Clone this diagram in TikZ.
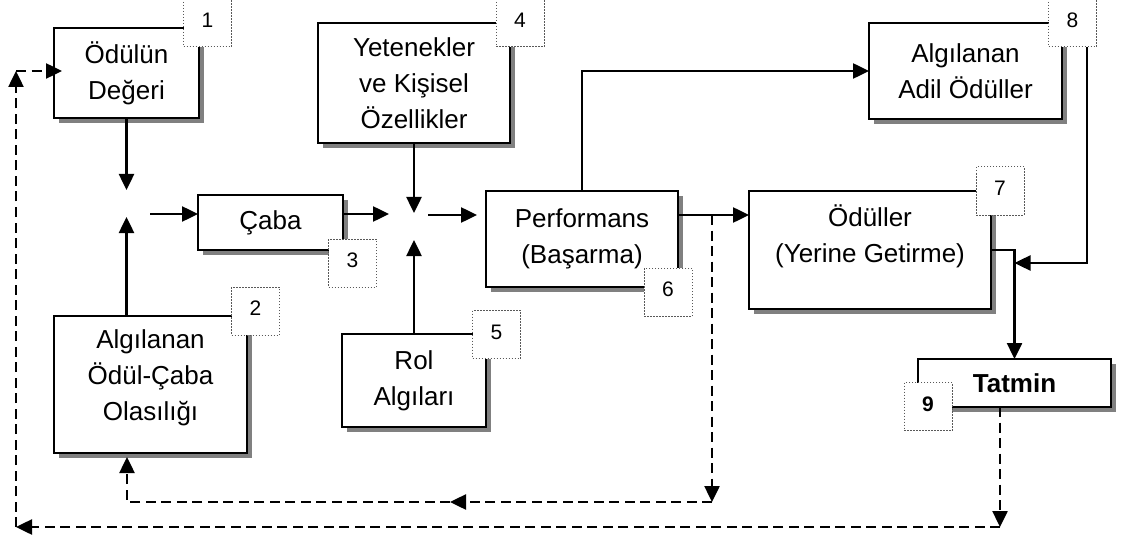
\documentclass[tikz,border=0pt]{standalone}
\usepackage{fontspec}
\setmainfont{Liberation Sans}
\usetikzlibrary{arrows.meta,shadows}
\tikzset{
  box/.style={draw=black, line width=2.5pt, fill=white, inner sep=0pt, outer sep=0pt,
    align=center, font=\fontsize{26}{36}\selectfont,
    drop shadow={opacity=1, fill=black!50, shadow xshift=5pt, shadow yshift=-5pt}},
  plaintext/.style={inner sep=0pt, align=center, font=\fontsize{26}{36}\selectfont},
  numbox/.style={draw=black!65, dash pattern=on 1.5pt off 1.5pt, line width=1pt, fill=white,
    minimum width=48pt, minimum height=48pt, inner sep=0pt, text depth=5pt,
    font=\fontsize{21}{23}\selectfont},
  tip/.style={-{Triangle[length=16pt,width=15pt]}},
  arr/.style={line width=2.5pt, tip},
  dline/.style={line width=2.5pt, dash pattern=on 10pt off 5.5pt},
}
\begin{document}
\begin{tikzpicture}[x=1pt,y=-1pt]
\useasboundingbox (0,0) rectangle (1121,540);

% boxes
\node[box, minimum width=145pt, minimum height=90pt]  (b1) at (126.5,73)  {Ödülün\\Değeri};
\node[box, minimum width=193pt, minimum height=137pt] (b2) at (150.5,384.5) {};
\node[plaintext] (t2) at (150.5,378) {Algılanan\\Ödül-Çaba\\Olasılığı};
\node[box, minimum width=145pt, minimum height=55pt]  (b3) at (270.5,222.5) {Çaba};
\node[box, minimum width=192pt, minimum height=120pt] (b4) at (414,83)    {Yetenekler\\ve Kişisel\\Özellikler};
\node[box, minimum width=144pt, minimum height=93pt]  (b5) at (414,380.5) {Rol\\Algıları};
\node[box, minimum width=192pt, minimum height=96pt]  (b6) at (582,239)   {Performans\\(Başarma)};
\node[box, minimum width=242pt, minimum height=118pt] (b7) at (870,250)   {};
\node[plaintext] (t7) at (870,236) {Ödüller\\(Yerine Getirme)};
\node[box, minimum width=193pt, minimum height=96pt]  (b8) at (965.5,71)  {Algılanan\\Adil Ödüller};
\node[box, minimum width=193pt, minimum height=48pt, font=\fontsize{26}{36}\selectfont\bfseries] (b9) at (1014.5,383) {Tatmin};

% junction points
\coordinate (j1u) at (126.5,190);
\coordinate (j1d) at (126.5,217);
\coordinate (j1r) at (150,214);
\coordinate (j2l) at (389,214);
\coordinate (j2u) at (414,213);
\coordinate (j2d) at (414,240);
\coordinate (j2r) at (428,215);
\coordinate (p)   at (712,215);

% solid arrows
\draw[arr] (b1.south) -- (j1u);
\draw[arr] (j1d |- b2.north) -- (j1d);
\draw[arr] (j1r) -- (b3.west |- j1r);
\draw[arr] (b3.east |- j1r) -- (j2l);
\draw[arr] (b4.south) -- (j2u);
\draw[arr] (b5.north) -- (j2d);
\draw[arr] (j2r) -- ([xshift=-9pt]b6.west |- j2r);
\draw[arr] (b6.north) |- (b8.west);
\draw[arr] (b6.east |- p) -- (b7.west |- p);
\draw[arr] (b7.east) -| (b9.north);
\coordinate (s0) at (1087,47);
\coordinate (s1) at (1087,263);
\draw[arr] (s0) -- (s1) -- (b9.north |- s1);

% dashed feedback to b2
\coordinate (q1) at (712,502);
\coordinate (q2) at (450,502);
\coordinate (q3) at (127,502);
\draw[dline, tip] (p) -- (q1);
\draw[dline, tip] (q1) -- (q2);
\draw[dline, tip] (q2) -- (q3) -- ([yshift=-4pt]q3 |- b2.south);

% dashed feedback to b1
\coordinate (r1) at (1000,527);
\coordinate (r2) at (16,527);
\coordinate (r3) at (16,71);
\draw[dline, tip] ([xshift=-14.5pt]b9.south) -- (r1);
\draw[dline, tip] (r1) -- (r2);
\draw[dline, tip] (r2) -- (r3);
\draw[dline, tip] (r3) -- ([xshift=8pt]b1.west |- r3);

% number labels
\node[numbox] (n1) at (207.5,23)  {1};
\node[numbox] (n2) at (255.5,311) {2};
\node[numbox] (n3) at (352.5,263) {3};
\node[numbox] (n4) at (520,23)    {4};
\node[numbox] (n5) at (496.5,334.5) {5};
\node[numbox] (n6) at (668,292)   {6};
\node[numbox] (n7) at (1000,191)  {7};
\node[numbox] (n8) at (1072.5,23) {8};
\node[numbox, font=\fontsize{21}{23}\selectfont\bfseries] (n9) at (928,406.5) {9};
\end{tikzpicture}
\end{document}
